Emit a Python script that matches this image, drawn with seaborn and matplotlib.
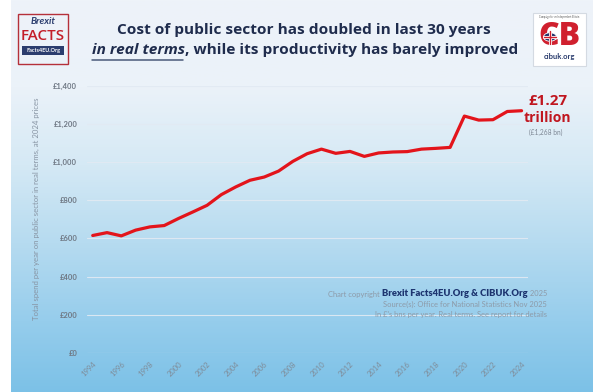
import numpy as np
import pandas as pd
import seaborn as sns
import matplotlib
matplotlib.use("Agg")
import matplotlib.pyplot as plt
from matplotlib.colors import LinearSegmentedColormap
from matplotlib.patches import Rectangle, Circle
from matplotlib.lines import Line2D

# ---------------- data ----------------
years = list(range(1994, 2025))
spend_bn = [615, 630, 613, 643, 660, 667, 704, 738, 773, 829, 869, 904, 921, 952,
            1003, 1043, 1067, 1045, 1055, 1029, 1047, 1052, 1054, 1067, 1071, 1076,
            1240, 1219, 1221, 1264, 1268]
y_ticks = [0, 200, 400, 600, 800, 1000, 1200, 1400]
y_tick_labels = ["£0", "£200", "£400", "£600", "£800", "£1,000", "£1,200", "£1,400"]
x_ticks = list(range(1994, 2025, 2))
title_line1 = "Cost of public sector has doubled in last 30 years"
title_line2a = "in real terms"
title_line2b = ", while its productivity has barely improved"
y_label = "Total spend per year on public sector in real terms, at 2024 prices"
annot_big = "£1.27"
annot_mid = "trillion"
annot_small = "(£1,268 bn)"
credit_pre = "Chart copyright "
credit_bold = "Brexit Facts4EU.Org & CIBUK.Org"
credit_post = " 2025"
credit_line2 = "Source(s): Office for National Statistics Nov 2025"
credit_line3 = "In £'s bns per year. Real terms. See report for details"

df = pd.DataFrame({"year": years, "spend": spend_bn})

# ---------------- style ----------------
sns.set_style("white")
plt.rcParams["font.family"] = ["Lato", "DejaVu Sans"]

W, H = 596, 392
fig = plt.figure(figsize=(W / 100, H / 100), dpi=100, facecolor="white")

def fx(px):
    return px / W

def fy(py):
    return 1 - py / H

# background gradient panel
stops = [(0.0, "#eef3f9"), (0.22, "#ebf2f9"), (0.42, "#d5e9f5"),
         (0.62, "#b6dbf0"), (0.82, "#96cdec"), (1.0, "#7cc1e7")]
cmap = LinearSegmentedColormap.from_list("bg", stops)
bg = fig.add_axes([fx(11), 0, fx(592) - fx(11), 1], zorder=-10)
grad = np.linspace(0, 1, 256).reshape(-1, 1)
bg.imshow(grad, aspect="auto", cmap=cmap, extent=[0, 1, 0, 1], origin="upper")
bg.set_axis_off()

# main axes
ax = fig.add_axes([fx(87), fy(353), fx(528) - fx(87), fy(85.5) - fy(353)])
ax.set_facecolor("none")
sns.lineplot(data=df, x="year", y="spend", ax=ax, color="#e3141b", lw=2.3,
             solid_joinstyle="round", solid_capstyle="round", zorder=5)
ax.set_xlim(1993.6, 2024.45)
ax.set_ylim(0, 1400)
ax.set_yticks(y_ticks)
ax.set_yticklabels(y_tick_labels, fontsize=5.5, fontweight="bold", color="#6f7884")
ax.set_xticks(x_ticks)
ax.set_xticklabels([str(x) for x in x_ticks], rotation=45, ha="right",
                   rotation_mode="anchor", fontsize=5.5, color="#7f8c99")
ax.tick_params(axis="both", length=0)
ax.tick_params(axis="y", pad=7)
ax.tick_params(axis="x", pad=5)
ax.grid(axis="y", color="#e2eaf3", lw=0.8, alpha=0.9)
ax.grid(axis="x", visible=False)
for s in ax.spines.values():
    s.set_visible(False)
ax.set_xlabel("")
ax.set_ylabel("")

fig.canvas.draw()
r = fig.canvas.get_renderer()

def width(t):
    return t.get_window_extent(r).width

def height(t):
    return t.get_window_extent(r).height

def fit(t, target):
    t.set_fontsize(t.get_fontsize() * target / width(t))

def fit_v(t, target):
    t.set_fontsize(t.get_fontsize() * target / height(t))

NAVY = "#1f2c4d"

# title line 1
t1 = fig.text(fx(304), fy(30), title_line1, ha="center", va="center",
              fontsize=12, fontweight="bold", color=NAVY,
              family=["Open Sans", "DejaVu Sans"])
fit(t1, 371)
fs_title = t1.get_fontsize()

# title line 2 (pieces)
p1 = fig.text(0, fy(50), title_line2a, ha="left", va="center", fontsize=fs_title,
              fontweight="bold", style="italic", color=NAVY,
              family=["Open Sans", "DejaVu Sans"])
p2 = fig.text(0, fy(50), title_line2b, ha="left", va="center", fontsize=fs_title,
              fontweight="bold", color=NAVY, family=["Open Sans", "DejaVu Sans"])
w1, w2 = width(p1), width(p2)
x0 = 305 - (w1 + w2) / 2
p1.set_x(fx(x0))
p2.set_x(fx(x0 + w1))
fig.add_artist(Line2D([fx(x0), fx(x0 + w1 - 2)], [fy(60), fy(60)],
                      transform=fig.transFigure, color="#4a5a7a", lw=1.1))

# y label
yl = fig.text(fx(36), fy(209), y_label, rotation=90, ha="center", va="center",
              fontsize=5.5, color="#8794a3")
fit_v(yl, 222)

# annotation at end
fig.text(fx(548), fy(101), annot_big, ha="center", va="center", fontsize=11,
         fontweight="bold", color="#c0161f", family=["Open Sans", "DejaVu Sans"])
fig.text(fx(547), fy(118), annot_mid, ha="center", va="center", fontsize=10,
         fontweight="bold", color="#c0161f", family=["Open Sans", "DejaVu Sans"])
fig.text(fx(546), fy(132), annot_small, ha="center", va="center", fontsize=4.8,
         color="#7d8794")

# credits (right aligned at x=547)
cr_color = "#8d9aa8"
c3 = fig.text(fx(547), fy(314), credit_line3, ha="right", va="center",
              fontsize=5, color=cr_color)
fit(c3, 175)
c2 = fig.text(fx(547), fy(304), credit_line2, ha="right", va="center",
              fontsize=c3.get_fontsize(), color=cr_color)
cpost = fig.text(fx(547), fy(294), credit_post, ha="right", va="center",
                 fontsize=c3.get_fontsize(), color=cr_color)
wpost = width(cpost)
cbold = fig.text(fx(547 - wpost), fy(294), credit_bold, ha="right", va="center",
                 fontsize=7, fontweight="heavy", color="#1d3570")
fit(cbold, 145)
wbold = width(cbold)
fig.text(fx(547 - wpost - wbold), fy(294), credit_pre, ha="right", va="center",
         fontsize=c3.get_fontsize(), color=cr_color)

# ---------- left logo ----------
fig.add_artist(Rectangle((fx(18), fy(64)), fx(68) - fx(18), fy(14) - fy(64),
                         transform=fig.transFigure, fill=False,
                         edgecolor="#b5303a", lw=1.0))
fig.text(fx(43), fy(22), "Brexit", ha="center", va="center", fontsize=7,
         fontweight="bold", style="italic", color="#2b3d6e")
lf = fig.text(fx(43), fy(36), "FACTS", ha="center", va="center", fontsize=11,
              fontweight="semibold", color="#c41e2a", family=["Open Sans", "DejaVu Sans"])
fit(lf, 44)
fig.add_artist(Rectangle((fx(22), fy(55)), fx(64) - fx(22), fy(46) - fy(55),
                         transform=fig.transFigure, facecolor="#2b3d6e",
                         edgecolor="none"))
fig.text(fx(43), fy(50.5), "Facts4EU.Org", ha="center", va="center",
         fontsize=4, fontweight="bold", color="white")

# ---------- right logo ----------
fig.add_artist(Rectangle((fx(533), fy(66)), fx(586) - fx(533), fy(13) - fy(66),
                         transform=fig.transFigure, facecolor="white",
                         edgecolor="#d4dae2", lw=0.8))
cb = fig.text(fx(559.5), fy(37), "CB", ha="center", va="center", fontsize=18,
              fontweight="heavy", color="#d0202e", family=["Open Sans", "DejaVu Sans"])
fit(cb, 42)
fig.add_artist(Circle((fx(550), fy(37)), 6.5 / W, transform=fig.transFigure,
                      facecolor="#23336b", edgecolor="white", lw=0.6, zorder=6))
fig.add_artist(Line2D([fx(544), fx(556)], [fy(37), fy(37)], transform=fig.transFigure,
                      color="white", lw=2.2, zorder=7))
fig.add_artist(Line2D([fx(550), fx(550)], [fy(30.5), fy(43.5)], transform=fig.transFigure,
                      color="white", lw=2.2, zorder=7))
fig.add_artist(Line2D([fx(544), fx(556)], [fy(37), fy(37)], transform=fig.transFigure,
                      color="#d0202e", lw=1.0, zorder=8))
fig.add_artist(Line2D([fx(550), fx(550)], [fy(30.5), fy(43.5)], transform=fig.transFigure,
                      color="#d0202e", lw=1.0, zorder=8))
fig.text(fx(559.5), fy(57), "cibuk.org", ha="center", va="center", fontsize=5.5,
         fontweight="bold", color="#2b3d6e")
fig.text(fx(559.5), fy(17), "Campaign for an Independent Britain", ha="center",
         va="center", fontsize=1.8, color="#555555")

fig.savefig("out.png", dpi=100, facecolor="white")
